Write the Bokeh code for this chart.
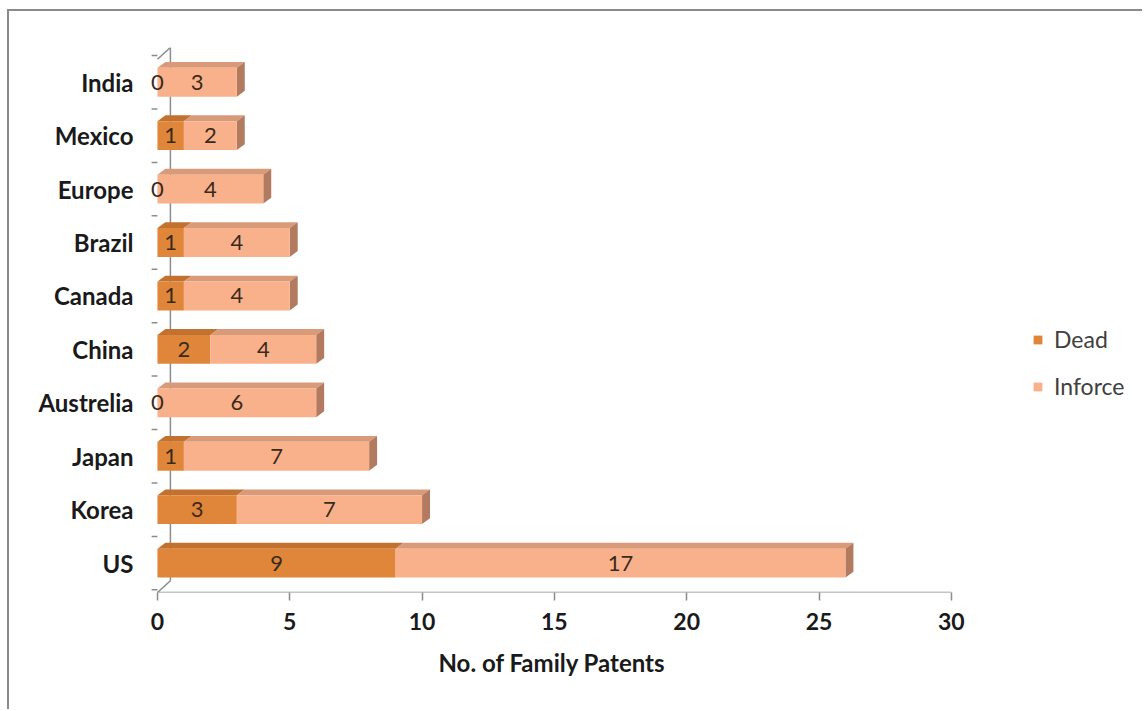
from bokeh.plotting import figure
from bokeh.models import FixedTicker, Legend, LegendItem, Title
from bokeh.core.properties import value
from bokeh.embed import file_html
from bokeh.resources import INLINE

# ---- data ----
countries = ["US", "Korea", "Japan", "Austrelia", "China", "Canada", "Brazil", "Europe", "Mexico", "India"]
dead = [9, 3, 1, 0, 2, 1, 1, 0, 1, 0]
inforce = [17, 7, 7, 6, 4, 4, 4, 4, 2, 3]
x_ticks = [0, 5, 10, 15, 20, 25, 30]
x_title = "No. of Family Patents"

# ---- style ----
FONT = "Lato"
DEAD_FRONT, DEAD_TOP, DEAD_SIDE = "#E0863A", "#C2712E", "#A55F28"
INF_FRONT, INF_TOP, INF_SIDE = "#F9B18C", "#D99A7A", "#B27A5E"
AXIS_C = "#8c8c8c"
BAR_H = 0.54
DX, DY = 0.30, 0.11       # bar depth (data units)
WDX, WDY = 0.49, 0.22     # wall depth
Y0, Y1 = -0.55, 9.65
XMAX = 30
X_START, X_END = -0.30, 37.3

p = figure(width=1135, height=700, x_range=(X_START, X_END), y_range=(Y0, Y1),
           output_backend="svg", toolbar_location=None,
           min_border_left=140, min_border_right=0,
           min_border_top=36, min_border_bottom=119)
p.styles = {"margin-left": "7px", "margin-top": "9px",
            "border-left": "2px solid #8a8a8a", "border-top": "2px solid #8a8a8a"}
p.grid.visible = False
p.outline_line_color = None
p.background_fill_color = "white"
p.border_fill_color = "white"

ys = list(range(len(countries)))

# back wall line, corner diagonals, bottom axis line, left tick marks
p.segment(x0=[WDX], y0=[Y0 + WDY], x1=[WDX], y1=[Y1], line_color=AXIS_C, line_width=1.5)
p.segment(x0=[0, 0], y0=[Y0, Y1 - WDY], x1=[WDX, WDX], y1=[Y0 + WDY, Y1],
          line_color=AXIS_C, line_width=1.5)
p.segment(x0=[0], y0=[Y0], x1=[XMAX], y1=[Y0], line_color=AXIS_C, line_width=1.5)
minor = [y - 0.5 for y in ys] + [ys[-1] + 0.5]
p.segment(x0=[-0.22] * len(minor), y0=minor, x1=[0] * len(minor), y1=minor,
          line_color=AXIS_C, line_width=1.5)

def faces(starts, widths, front, top, side, with_side):
    tx, ty, sx, sy = [], [], [], []
    fl, fr, fb, ft = [], [], [], []
    for y, s, w in zip(ys, starts, widths):
        if w <= 0:
            continue
        b, t = y - BAR_H / 2, y + BAR_H / 2
        e = s + w
        tx.append([s, e, e + DX, s + DX]); ty.append([t, t, t + DY, t + DY])
        if with_side:
            sx.append([e, e + DX, e + DX, e]); sy.append([b, b + DY, t + DY, t])
        fl.append(s); fr.append(e); fb.append(b); ft.append(t)
    p.patches(xs=tx, ys=ty, fill_color=top, line_color=None)
    if with_side:
        p.patches(xs=sx, ys=sy, fill_color=side, line_color=None)
    return p.quad(left=fl, right=fr, bottom=fb, top=ft, fill_color=front, line_color=None)

r_dead = faces([0] * len(dead), dead, DEAD_FRONT, DEAD_TOP, DEAD_SIDE, False)
r_inf = faces(dead, inforce, INF_FRONT, INF_TOP, INF_SIDE, True)

# value labels
lx = [d / 2 for d in dead] + [d + i / 2 for d, i in zip(dead, inforce)]
ly = ys + ys
lt = [str(d) for d in dead] + [str(i) for i in inforce]
p.text(x=lx, y=ly, text=lt, text_align="center", text_baseline="middle",
       text_font=value(FONT), text_font_size="22px", text_color="#3a2a1c")

# axes
xa = p.xaxis[0]
xa.ticker = FixedTicker(ticks=x_ticks)
xa.axis_line_color = None
xa.major_tick_line_color = AXIS_C; xa.major_tick_line_width = 1.5
xa.major_tick_out = 8; xa.major_tick_in = 0
xa.minor_tick_line_color = None
xa.major_label_text_font = FONT; xa.major_label_text_font_style = "bold"
xa.major_label_text_font_size = "23px"; xa.major_label_text_color = "#1a1a1a"
xa.major_label_standoff = 12

# x-axis title centred under the 0..30 span (frame extends further right)
p.add_layout(Title(text=x_title, align="left", offset=289, standoff=26,
                   text_font=FONT, text_font_style="bold", text_font_size="24px",
                   text_color="#1a1a1a"), "below")

ya = p.yaxis[0]
ya.ticker = FixedTicker(ticks=ys)
ya.major_label_overrides = {y: c for y, c in zip(ys, countries)}
ya.axis_line_color = None
ya.major_tick_line_color = None
ya.minor_tick_line_color = None
ya.major_tick_out = 0; ya.major_tick_in = 0
ya.major_label_text_font = FONT; ya.major_label_text_font_style = "bold"
ya.major_label_text_font_size = "24px"; ya.major_label_text_color = "#1a1a1a"
ya.major_label_standoff = 16

legend = Legend(items=[LegendItem(label="Dead", renderers=[r_dead]),
                       LegendItem(label="Inforce", renderers=[r_inf])],
                location=(883, 192), border_line_color=None, background_fill_alpha=0,
                padding=0, margin=0,
                label_text_font=FONT, label_text_font_size="23px", label_text_color="#404040",
                glyph_width=11, glyph_height=11, label_height=25, spacing=19, label_standoff=11)
p.add_layout(legend, "center")

open("out.html", "w").write(file_html(p, INLINE))
